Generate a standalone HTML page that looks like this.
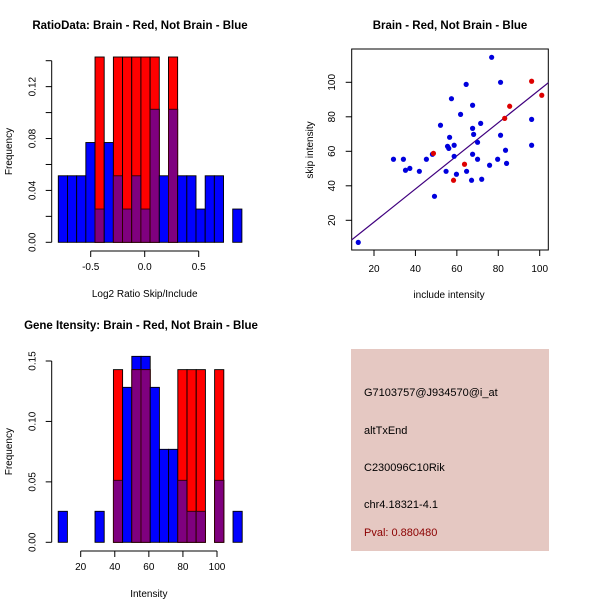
<!DOCTYPE html>
<html><head><meta charset="utf-8"><style>
body{margin:0;background:#fff;}
svg text{font-family:"Liberation Sans",sans-serif;}
</style></head><body>
<svg id="s" width="600" height="600" xmlns="http://www.w3.org/2000/svg">
<text x="140" y="29" font-size="11.5" font-weight="bold" text-anchor="middle">RatioData: Brain - Red, Not Brain - Blue</text>
<text x="450" y="29" font-size="11.5" font-weight="bold" text-anchor="middle">Brain - Red, Not Brain - Blue</text>
<text x="141" y="329" font-size="11.5" font-weight="bold" text-anchor="middle">Gene Itensity: Brain - Red, Not Brain - Blue</text>
<rect x="351" y="349" width="198" height="202" fill="#E5C8C2"/>
<g font-size="11">
<text x="364" y="396">G7103757@J934570@i_at</text>
<text x="364" y="434">altTxEnd</text>
<text x="364" y="471">C230096C10Rik</text>
<text x="364" y="508">chr4.18321-4.1</text>
<text x="364" y="536" fill="#8B0000">Pval: 0.880480</text>
</g>
</svg>
<script>
// Ratio histogram data (counts)
const ratioBins = [-0.8,0.9];
const ratioBlue = [2,2,2,3,1,3,2,1,2,1,4,2,4,2,2,1,2,2,0,1];
const ratioRed  = [0,0,0,0,1,0,1,1,1,1,1,0,1,0,0,0,0,0,0,0];
const ratioXTicks = [-0.5,0,0.5];
const ratioXLabels = ["-0.5","0.0","0.5"];
const ratioYTicks = [0,0.02,0.04,0.06,0.08,0.10,0.12,0.14];
const ratioYLabels = ["0.00","","0.04","","0.08","","0.12",""];
// Intensity histogram data
const intBins = [6.8,114.8];
const intBlue = [1,0,0,0,1,0,2,5,6,6,5,3,3,2,1,1,0,2,0,1];
const intRed  = [0,0,0,0,0,0,1,0,1,1,0,0,0,1,1,1,0,1,0,0];
const intXTicks = [20,40,60,80,100];
const intYTicks = [0,0.05,0.10,0.15];
const intYLabels = ["0.00","0.05","0.10","0.15"];
// Scatter data
const blueX = [12.4,29.4,34.2,35.2,37.3,41.9,45.3,48.2,49.2,52.1,54.8,55.5,56.1,56.5,57.4,58.7,58.7,59.8,61.8,64.5,64.7,67.1,67.6,67.6,67.6,68.1,70.0,70.0,71.5,72.0,75.8,76.8,79.7,81.1,81.1,83.5,84.0,96.1,96.1];
const blueY = [7.2,55.4,55.4,49,50.1,48.4,55.4,58.3,33.9,75.1,48.4,62.9,61.7,68.1,90.5,63.5,57.1,46.7,81.4,98.8,48.4,43.2,86.7,73.3,58.3,69.8,65.2,55.4,76.2,43.8,51.9,114.5,55.4,100,69.3,60.6,53.0,78.5,63.5];
const redX = [48.7,58.4,63.7,83.1,85.5,96.1,101.0];
const redY = [58.8,43.2,52.5,79.1,86.1,100.6,92.5];
const fitLine = [-0.23,0.96];
const scXTicks = [20,40,60,80,100];
const scYTicks = [20,40,60,80,100];

const NS="http://www.w3.org/2000/svg", s=document.getElementById('s');
function mk(t,a,parent){const e=document.createElementNS(NS,t);for(const k in a)e.setAttribute(k,a[k]);(parent||s).appendChild(e);return e;}

function hist(blue,red,bins,xr,yr,px,py,xt,xl,yt,yl,xlab,prefix,axisY,axisX){
  const total=blue.reduce((a,b)=>a+b,0), rt=red.reduce((a,b)=>a+b,0);
  const sx=v=>px[0]+(v-xr[0])/(xr[1]-xr[0])*(px[1]-px[0]);
  const sy=v=>py[0]-(v-yr[0])/(yr[1]-yr[0])*(py[0]-py[1]);
  const n=blue.length,w=(bins[1]-bins[0])/n;
  for(let i=0;i<n;i++){
    const x0=sx(bins[0]+i*w),x1=sx(bins[0]+(i+1)*w);
    const b=blue[i]/total,r=red[i]/rt,m=Math.min(b,r);
    if(b>0){const e=mk('rect',{x:x0,y:sy(b),width:x1-x0,height:sy(0)-sy(b),fill:'#0000FF',stroke:'#000','stroke-width':0.9});
      
      }
    if(r>0){const e=mk('rect',{x:x0,y:sy(r),width:x1-x0,height:sy(0)-sy(r),fill:'#FF0000',stroke:'#000','stroke-width':0.9});
      
      }
    if(m>0){const e=mk('rect',{x:x0,y:sy(m),width:x1-x0,height:sy(0)-sy(m),fill:'#7F007F',stroke:'#300','stroke-width':0.9});
      
      }
  }
  const xa=mk('line',{x1:sx(xt[0]),x2:sx(xt[xt.length-1]),y1:axisY,y2:axisY,stroke:'#000'});
  
  
  xt.forEach((v,i)=>{mk('line',{x1:sx(v),x2:sx(v),y1:axisY,y2:axisY+6,stroke:'#000'});
    const t=mk('text',{x:sx(v),y:axisY+19,'font-size':10,'text-anchor':'middle'});t.textContent=xl[i];
    
    });
  const ya=mk('line',{x1:axisX,x2:axisX,y1:sy(yt[0]),y2:sy(yt[yt.length-1]),stroke:'#000'});
  
  
  const lx=axisX-16;
  yt.forEach((v,i)=>{mk('line',{x1:axisX-6,x2:axisX,y1:sy(v),y2:sy(v),stroke:'#000'});
    if(yl[i]){const t=mk('text',{x:lx,y:sy(v),'font-size':10,'text-anchor':'middle',transform:`rotate(-90 ${lx} ${sy(v)})`});t.textContent=yl[i];
    
    }});
  const xlb=mk('text',{x:(px[0]+px[1])/2,y:axisY+46,'font-size':10,'text-anchor':'middle'});xlb.textContent=xlab;
  
  
  const yc=(py[0]+py[1])/2;
  const ylb=mk('text',{x:12,y:yc,'font-size':10,'text-anchor':'middle',transform:`rotate(-90 12 ${yc})`});ylb.textContent='Frequency';
  
  
}
hist(ratioBlue,ratioRed,ratioBins,[-0.5,0.5],[0,0.14],[90.7,198.7],[242.3,60.7],ratioXTicks,ratioXLabels,ratioYTicks,ratioYLabels,'Log2 Ratio Skip/Include','ratio',251,51.7);
hist(intBlue,intRed,intBins,[20,100],[0,0.15],[80.7,217],[542.3,361],intXTicks,intXTicks.map(String),intYTicks,intYLabels,'Intensity','intensity',551,51.7);

(function(){
  const sx=v=>374+(v-20)*(539.7-374)/80, sy=v=>220.3-(v-20)*(220.3-82.3)/80;
  const box=mk('rect',{x:351.7,y:49,width:196.6,height:201,fill:'none',stroke:'#000'});
  
  
  const cp=mk('clipPath',{id:'c'});mk('rect',{x:351.7,y:49,width:196.6,height:201},cp);
  const g=mk('g',{'clip-path':'url(#c)'});
  const x0=9.2,x1=104.4;
  const ln=mk('line',{x1:sx(x0),y1:sy(fitLine[0]+fitLine[1]*x0),x2:sx(x1),y2:sy(fitLine[0]+fitLine[1]*x1),stroke:'#40007F','stroke-width':1.2},g);
  
  
  blueX.forEach((v,i)=>{const c=mk('circle',{cx:sx(v),cy:sy(blueY[i]),r:2.6,fill:'#0000DD'});
    
    });
  redX.forEach((v,i)=>{const c=mk('circle',{cx:sx(v),cy:sy(redY[i]),r:2.6,fill:'#DD0000'});
    
    });
  scXTicks.forEach(v=>{mk('line',{x1:sx(v),x2:sx(v),y1:250,y2:256,stroke:'#000'});
    const t=mk('text',{x:sx(v),y:272,'font-size':10,'text-anchor':'middle'});t.textContent=v;
    
    });
  scYTicks.forEach(v=>{mk('line',{x1:345.7,x2:351.7,y1:sy(v),y2:sy(v),stroke:'#000'});
    const t=mk('text',{x:335,y:sy(v),'font-size':10,'text-anchor':'middle',transform:`rotate(-90 335 ${sy(v)})`});t.textContent=v;
    
    });
  const xl=mk('text',{x:449,y:298,'font-size':10,'text-anchor':'middle'});xl.textContent='include intensity';
  
  
  const yl=mk('text',{x:313,y:150,'font-size':10,'text-anchor':'middle',transform:'rotate(-90 313 150)'});yl.textContent='skip intensity';
  
  
})();
</script>
</body></html>
